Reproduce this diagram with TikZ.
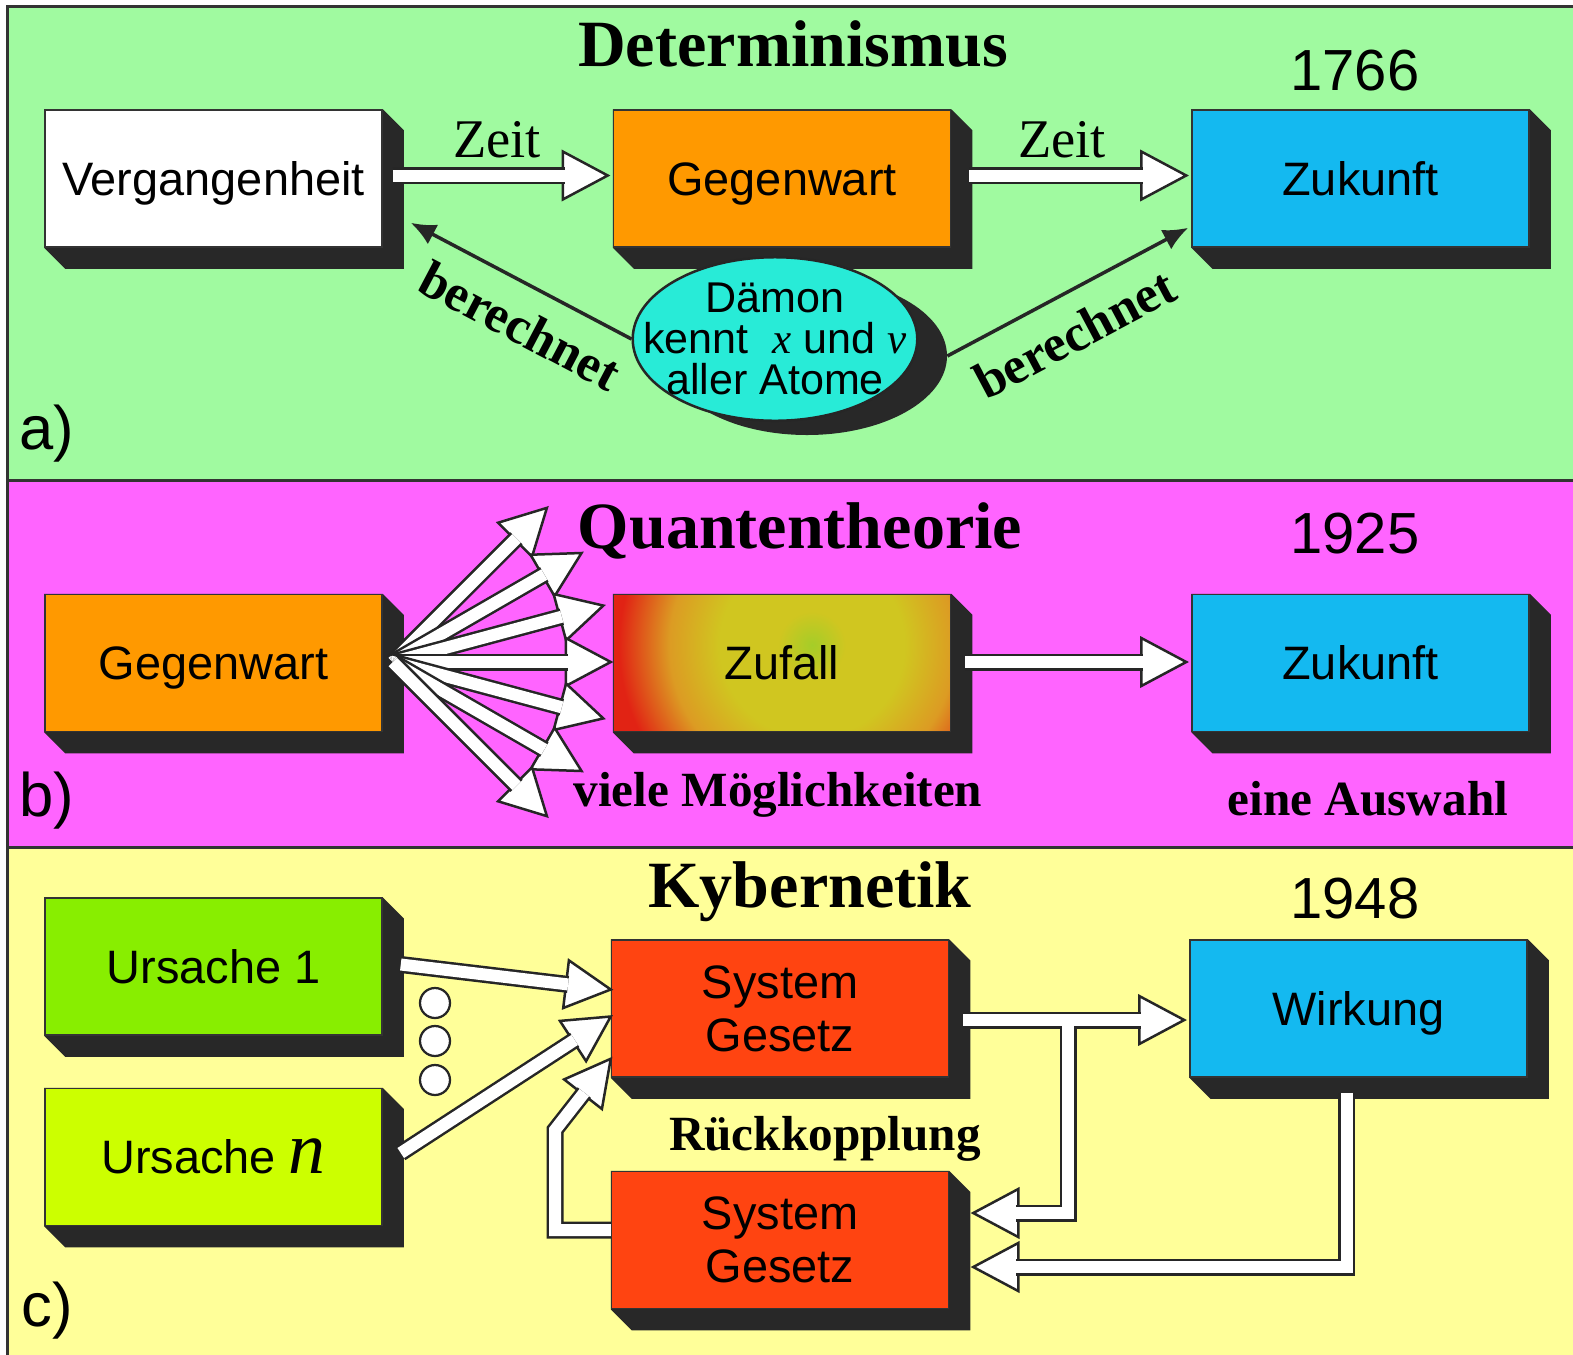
\documentclass[tikz,border=0pt]{standalone}
\usepackage{fontspec}
\setmainfont{Liberation Sans}
\newfontfamily\seriffont{Liberation Serif}
\usetikzlibrary{arrows.meta, backgrounds, calc, positioning, shapes.geometric}
\pgfdeclarelayer{panel}
\pgfsetlayers{panel,background,main}

\definecolor{bga}{RGB}{160,250,160}
\definecolor{bgb}{RGB}{255,100,255}
\definecolor{bgc}{RGB}{255,255,153}
\definecolor{orangebox}{RGB}{255,153,0}
\definecolor{skybox}{RGB}{20,185,240}
\definecolor{aqua}{RGB}{40,235,215}
\definecolor{limebox}{RGB}{136,238,0}
\definecolor{yellowgreen}{RGB}{204,255,0}
\definecolor{redbox}{RGB}{255,68,17}
\definecolor{shadowc}{RGB}{40,40,40}
\definecolor{zgreen}{RGB}{165,205,40}
\definecolor{zyellow}{RGB}{208,198,32}
\definecolor{zorange}{RGB}{220,155,35}
\definecolor{zred}{RGB}{225,35,20}
\pgfdeclareradialshading{zufallshade}{\pgfpoint{0bp}{0bp}}{color(0bp)=(zgreen); color(4bp)=(zyellow); color(11bp)=(zyellow); color(17bp)=(zorange); color(23bp)=(zred); color(50bp)=(zred)}

\tikzstyle{block}=[rectangle, draw=black!80, line width=0.3mm, minimum width=67.4mm, minimum height=27.4mm, inner sep=0pt, align=center, font=\fontsize{26.7}{30}\selectfont]
\tikzstyle{box1}=[block, text height=19.2pt, text depth=0pt]
\tikzstyle{title}=[font=\seriffont\bfseries\fontsize{37.6}{40}\selectfont, anchor=base]
\tikzstyle{year}=[font=\fontsize{33}{36}\selectfont, anchor=base]
\tikzstyle{tag}=[font=\fontsize{35}{36}\selectfont, anchor=base]
\tikzstyle{note}=[font=\seriffont\bfseries\fontsize{28}{30}\selectfont, anchor=base]
\tikzstyle{zeit}=[font=\seriffont\fontsize{31}{32}\selectfont, anchor=base]
\tikzstyle{calcnote}=[font=\seriffont\bfseries\fontsize{29.6}{30}\selectfont, sloped, below, inner ysep=4mm]
\tikzstyle{shaft}=[draw=black!85, line width=0.5mm, double=white, double distance=2.4mm]
\tikzstyle{shaftout}=[draw=black!85, line width=3.4mm]
\tikzstyle{shaftin}=[draw=white, line width=2.4mm]
\tikzstyle{head}=[draw=black!85, fill=white, line width=0.5mm, line join=miter]
\tikzstyle{pointer}=[draw=black!85, line width=0.7mm, -{Latex[length=5mm, width=4.4mm]}]
\tikzstyle{frame}=[draw=black!80, line width=0.6mm]
\tikzstyle{dot}=[circle, draw=black!85, fill=white, line width=0.45mm, minimum size=6mm, inner sep=0pt]

% hollow arrow head, tip at #2, coming from #1
\newcommand{\holhead}[2]{\filldraw[head] (#2) -- ($($(#2)!9mm!(#1)$)!4.8mm!90:(#2)$) -- ($($(#2)!9mm!(#1)$)!4.8mm!-90:(#2)$) -- cycle;}
\newcommand{\holarrow}[2]{\holhead{#1}{#2}\draw[shaft] (#1) -- ($(#2)!8.6mm!(#1)$);}

\begin{document}
\begin{tikzpicture}[x=0.2mm, y=-0.2mm]
\useasboundingbox (0,0) rectangle (1573,1355);
\begin{pgfonlayer}{panel}
  \fill[white] (0,0) rectangle (1573,1355);
  \fill[bga] (7,6) rectangle (1573,480);
  \fill[bgb] (7,480) rectangle (1573,847);
  \fill[bgc] (7,847) rectangle (1573,1355);
  \draw[frame] (7,1355) -- (7,6) -- (1573,6);
  \draw[frame] (7,480) -- (1573,480) (7,847) -- (1573,847);
\end{pgfonlayer}

% a) Determinismus
\node[title] (detTitle) at (793,66) {Determinismus};
\node[year] (detYear) at (1355,90) {1766};
\node[tag] (tagA) at (47,449) {a)};
\node[box1, fill=white] (verg) at (213.5,178.5) {Vergangenheit};
\node[box1, fill=orangebox, right=46mm of verg] (gegA) {Gegenwart};
\node[box1, fill=skybox, right=48mm of gegA] (zukA) {Zukunft};
\node[ellipse, draw=black!85, line width=0.5mm, fill=aqua, inner xsep=-6.2mm, inner ysep=0.3mm, align=center, font=\fontsize{24.5}{23.5}\selectfont] (daemon) at (775,339) {Dämon\\kennt\ \ {\seriffont\itshape x} und {\seriffont\itshape v}\\aller Atome};

\coordinate (zeitAs) at ($(verg.east)+(10,-3)$);
\coordinate (zeitAe) at ($(gegA.west)+(-5,-3)$);
\coordinate (zeitBs) at ($(gegA.east)+(18,-3)$);
\coordinate (zeitBe) at ($(zukA.west)+(-5,-3)$);
\holarrow{zeitAs}{zeitAe}
\holarrow{zeitBs}{zeitBe}
\node[zeit] (zeitA) at (497,157) {Zeit};
\node[zeit] (zeitB) at (1062,157) {Zeit};

\coordinate (ltip) at ($(verg.south east)+(28,-25)$);
\coordinate (rtip) at ($(zukA.south west)+(-3,-20)$);

% b) Quantentheorie
\node[title] (qtTitle) at (800,548) {Quantentheorie};
\node[year] (qtYear) at (1355,553) {1925};
\node[tag] (tagB) at (47,816) {b)};
\node[box1, fill=orangebox] (gegB) at (213.5,663) {Gegenwart};
\node[box1, right=46mm of gegB, path picture={\shade[shading=zufallshade] ($(path picture bounding box.center)+(30,-18)$) ++(-210,-210) rectangle ++(420,420);}] (zufall) {Zufall};
\node[box1, fill=skybox, right=48mm of zufall] (zukB) {Zukunft};
\node[note] (viele) at (778,806) {viele Möglichkeiten};
\node[note] (auswahl) at (1368,815) {eine Auswahl};

\coordinate (fan) at ($(gegB.east)+(10,-1)$);
\foreach \a [count=\i] in {-45,-30,-15,0,15,30,45} {
  \coordinate (fantip\i) at ($(fan)+(\a:218)$);
  \holarrow{fan}{fantip\i}
}
\coordinate (zfs) at ($(zufall.east)+(14,-1)$);
\coordinate (zfe) at ($(zukB.west)+(-5,-1)$);
\holarrow{zfs}{zfe}

% c) Kybernetik
\node[title] (kyTitle) at (810,907) {Kybernetik};
\node[year] (kyYear) at (1355,918) {1948};
\node[tag] (tagC) at (47,1326) {c)};
\node[box1, fill=limebox] (ursache1) at (213.5,966.5) {Ursache 1};
\node[box1, fill=yellowgreen, below=10.4mm of ursache1] (ursachen) {Ursache {\seriffont\itshape\fontsize{42}{42}\selectfont n}};
\node[block, fill=redbox] (sys1) at (780,1008.5) {System\\Gesetz};
\node[box1, fill=skybox, right=48mm of sys1] (wirk) {Wirkung};
\node[block, fill=redbox, below=18.6mm of sys1] (sys2) {System\\Gesetz};
\node[note] (rueck) at (825,1150) {Rückkopplung};
\foreach \i/\y in {1/1003, 2/1041, 3/1080}
  \node[dot] (dot\i) at (435,\y) {};

% shadows
\begin{scope}[on background layer]
  \foreach \n in {verg, gegA, zukA, gegB, zufall, zukB, ursache1, ursachen, sys1, wirk, sys2}
    \fill[shadowc] (\n.north west) -- (\n.north east) -- ++(21,21) -- ($(\n.south east)+(21,21)$) -- ($(\n.south west)+(21,21)$) -- (\n.south west) -- cycle;
  \node[ellipse, fill=shadowc, minimum width=56mm, minimum height=31.6mm, inner sep=0pt] (daemonshadow) at ($(daemon)+(32,17)$) {};
\end{scope}

\draw[pointer] (daemon.west) -- node[calcnote, pos=0.42] {berechnet} (ltip);
\draw[pointer] (daemonshadow.east) -- node[calcnote, pos=0.45] {berechnet} (rtip);

\coordinate (u1s) at ($(ursache1.east)+(18,-2)$);
\coordinate (u1t) at ($(sys1.west)+(0,-19)$);
\coordinate (uns) at ($(ursachen.east)+(18,-4)$);
\coordinate (unt) at ($(sys1.west)+(0,8)$);
\holarrow{u1s}{u1t}
\holarrow{uns}{unt}

% Rueckkopplung links
\coordinate (lb) at ($(sys2.west)+(0,-10)$);
\coordinate (lbc) at (555,1130);
\coordinate (lbt) at ($(sys1.south west)+(0,-19)$);
\holhead{lbc}{lbt}
\draw[shaft] (lb) -| (lbc) -- ($(lbt)!8.6mm!(lbc)$);

% Wirkung mit Abzweig
\coordinate (ws) at ($(sys1.east)+(14,11.5)$);
\coordinate (we) at ($(wirk.west)+(-5,11.5)$);
\coordinate (tj) at ($(ws)+(105,0)$);
\coordinate (fb1) at ($(sys2.east)+(24,-27)$);
\coordinate (fb1c) at (tj |- fb1);
\holhead{ws}{we}
\holhead{fb1c}{fb1}
\draw[shaftout] (ws) -- ($(we)!8.6mm!(ws)$) (tj) |- ($(fb1)!8.6mm!(fb1c)$);
\draw[shaftin] (ws) -- ($(we)!8.6mm!(ws)$) (tj) |- ($(fb1)!8.6mm!(fb1c)$);

\coordinate (wb) at ($(wirk.south)+(-12,15)$);
\coordinate (fb2) at ($(sys2.east)+(24,27)$);
\coordinate (fb2c) at (wb |- fb2);
\holhead{fb2c}{fb2}
\draw[shaft] (wb) |- ($(fb2)!8.6mm!(fb2c)$);
\end{tikzpicture}
\end{document}
